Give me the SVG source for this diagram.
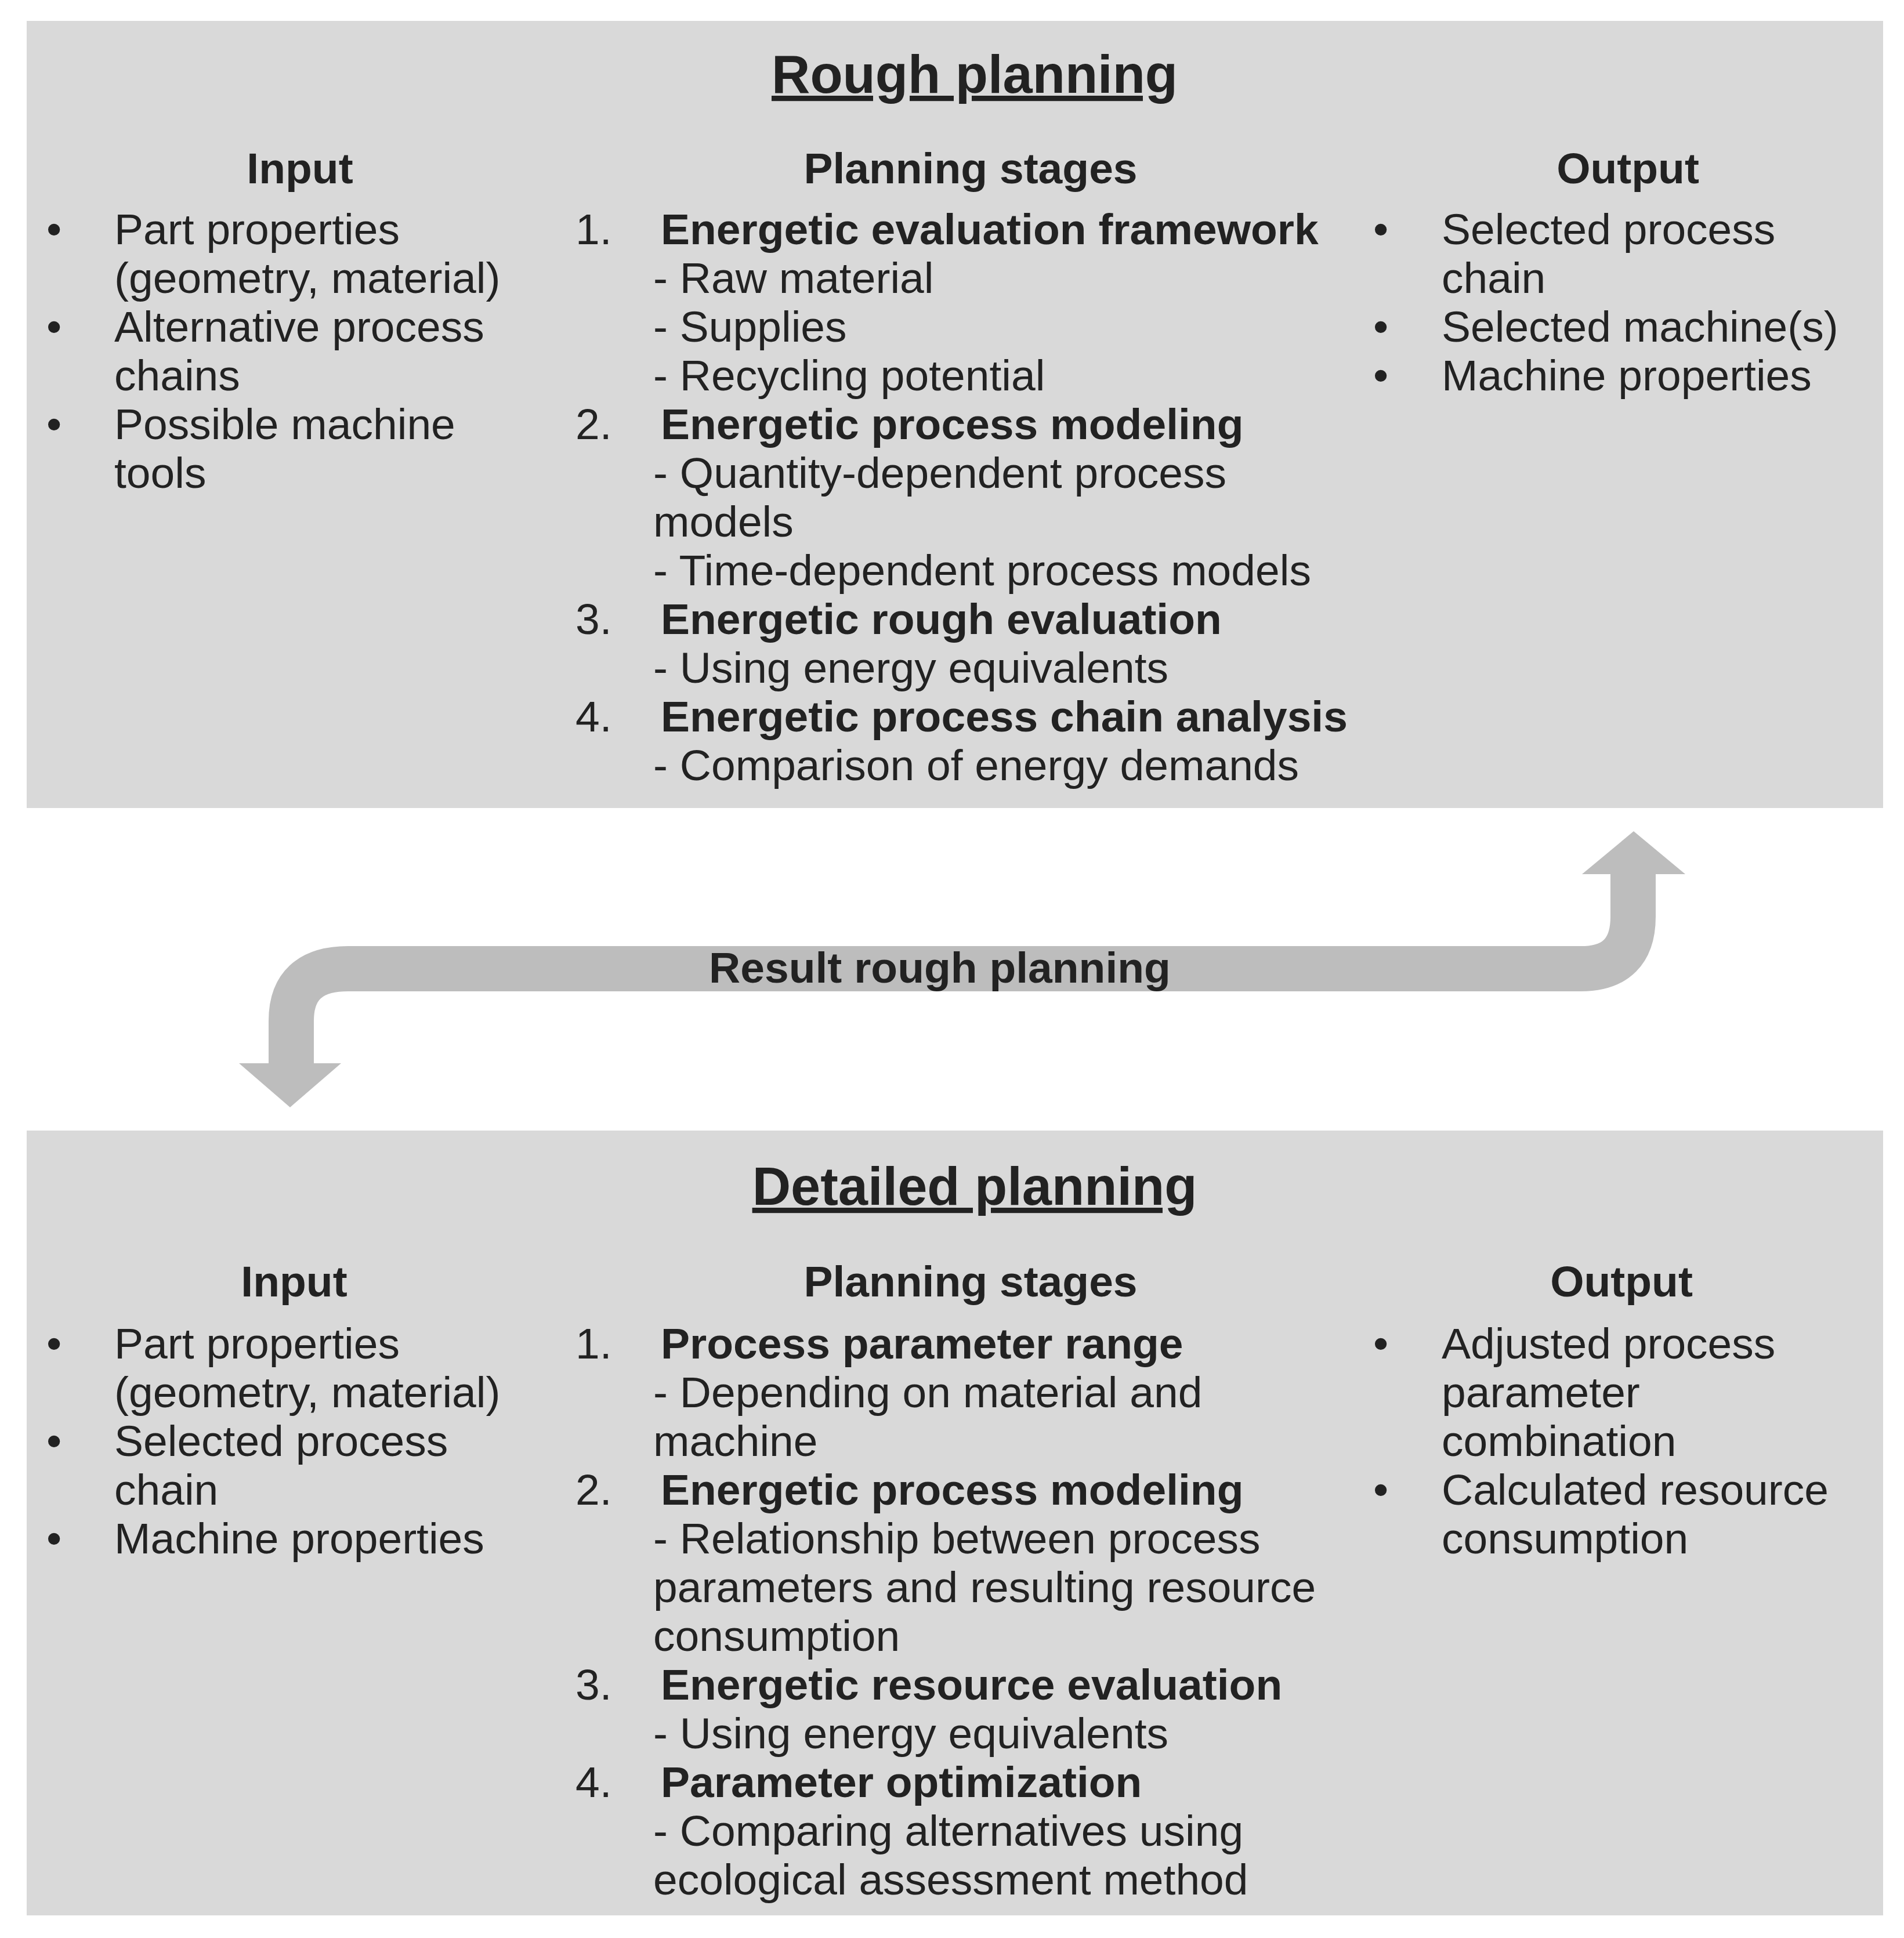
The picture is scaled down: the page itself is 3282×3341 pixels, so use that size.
<svg xmlns="http://www.w3.org/2000/svg" width="3282" height="3341" viewBox="0 0 3282 3341">
<style>
text{font-family:"Liberation Sans",Arial,sans-serif;fill:#222;font-size:75px}
.b{font-weight:bold}
.t{font-weight:bold;font-size:92px;text-decoration:underline}
.c{text-anchor:middle}
.box{fill:#d9d9d9}
</style>
<rect width="3282" height="3341" fill="#fff"/>
<g id="rough">
<rect class="box" x="46" y="36" width="3200" height="1357"/>
<text class="t c" x="1680" y="160">Rough planning</text>
<text class="b c" x="517" y="316">Input</text>
<text class="b c" x="1673" y="316">Planning stages</text>
<text class="b c" x="2806" y="316">Output</text>
<g>
<text x="80" y="421">•</text><text x="197" y="421">Part properties</text>
<text x="197" y="505">(geometry, material)</text>
<text x="80" y="589">•</text><text x="197" y="589">Alternative process</text>
<text x="197" y="673">chains</text>
<text x="80" y="757">•</text><text x="197" y="757">Possible machine</text>
<text x="197" y="841">tools</text>
</g>
<g>
<text x="992" y="421">1.</text><text class="b" x="1139" y="421">Energetic evaluation framework</text>
<text x="1126" y="505">- Raw material</text>
<text x="1126" y="589">- Supplies</text>
<text x="1126" y="673">- Recycling potential</text>
<text x="992" y="757">2.</text><text class="b" x="1139" y="757">Energetic process modeling</text>
<text x="1126" y="841">- Quantity-dependent process</text>
<text x="1126" y="925">models</text>
<text x="1126" y="1009">- Time-dependent process models</text>
<text x="992" y="1093">3.</text><text class="b" x="1139" y="1093">Energetic rough evaluation</text>
<text x="1126" y="1177">- Using energy equivalents</text>
<text x="992" y="1261">4.</text><text class="b" x="1139" y="1261">Energetic process chain analysis</text>
<text x="1126" y="1345">- Comparison of energy demands</text>
</g>
<g>
<text x="2367" y="421">•</text><text x="2485" y="421">Selected process</text>
<text x="2485" y="505">chain</text>
<text x="2367" y="589">•</text><text x="2485" y="589">Selected machine(s)</text>
<text x="2367" y="673">•</text><text x="2485" y="673">Machine properties</text>
</g>
</g>
<g id="connectors">
<path d="M502,1840 V1760 Q502,1670 600,1670 H2725 Q2815,1670 2815,1580 V1500" fill="none" stroke="#bdbdbd" stroke-width="78"/>
<polygon points="2727,1507 2905,1507 2816,1433" fill="#bdbdbd"/>
<polygon points="412,1833 588,1833 500,1909" fill="#bdbdbd"/>
<text class="b c" x="1620" y="1694">Result rough planning</text>
</g>
<g id="detailed">
<rect class="box" x="46" y="1949" width="3200" height="1353"/>
<text class="t c" x="1680" y="2077">Detailed planning</text>
<text class="b c" x="507" y="2235">Input</text>
<text class="b c" x="1673" y="2235">Planning stages</text>
<text class="b c" x="2795" y="2235">Output</text>
<g>
<text x="80" y="2342">•</text><text x="197" y="2342">Part properties</text>
<text x="197" y="2426">(geometry, material)</text>
<text x="80" y="2510">•</text><text x="197" y="2510">Selected process</text>
<text x="197" y="2594">chain</text>
<text x="80" y="2678">•</text><text x="197" y="2678">Machine properties</text>
</g>
<g>
<text x="992" y="2342">1.</text><text class="b" x="1139" y="2342">Process parameter range</text>
<text x="1126" y="2426">- Depending on material and</text>
<text x="1126" y="2510">machine</text>
<text x="992" y="2594">2.</text><text class="b" x="1139" y="2594">Energetic process modeling</text>
<text x="1126" y="2678">- Relationship between process</text>
<text x="1126" y="2762">parameters and resulting resource</text>
<text x="1126" y="2846">consumption</text>
<text x="992" y="2930">3.</text><text class="b" x="1139" y="2930">Energetic resource evaluation</text>
<text x="1126" y="3014">- Using energy equivalents</text>
<text x="992" y="3098">4.</text><text class="b" x="1139" y="3098">Parameter optimization</text>
<text x="1126" y="3182">- Comparing alternatives using</text>
<text x="1126" y="3266">ecological assessment method</text>
</g>
<g>
<text x="2367" y="2342">•</text><text x="2485" y="2342">Adjusted process</text>
<text x="2485" y="2426">parameter</text>
<text x="2485" y="2510">combination</text>
<text x="2367" y="2594">•</text><text x="2485" y="2594">Calculated resource</text>
<text x="2485" y="2678">consumption</text>
</g>
</g>
</svg>
